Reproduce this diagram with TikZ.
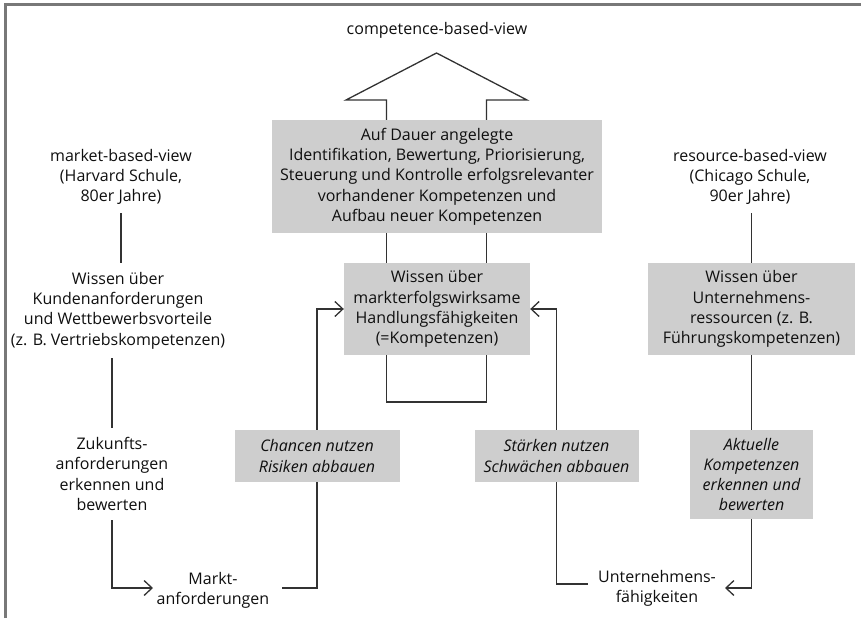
\documentclass[tikz,border=0pt]{standalone}
\usepackage{fontspec}
\setmainfont{Open Sans}
\usetikzlibrary{arrows.meta}
\definecolor{boxgray}{RGB}{206,206,206}
\definecolor{linegray}{RGB}{50,50,50}
\definecolor{framegray}{RGB}{120,120,120}
\definecolor{txt}{RGB}{15,15,15}
\begin{document}
\begin{tikzpicture}[x=1pt,y=-1pt,
  every node/.style={text=txt, font=\fontsize{16}{20.3}\selectfont, align=center, inner sep=0pt},
  graybox/.style={fill=boxgray, minimum width=#1},
  conn/.style={draw=linegray, line width=1.3pt},
  arr/.style={conn, -{Straight Barb[length=8pt,width=15pt,line width=1.3pt]}},
  itext/.style={font=\fontsize{16}{20.3}\selectfont\itshape}
]
\useasboundingbox (0,0) rectangle (861,618);
\draw[framegray, line width=2.5pt] (5.5,618) -- (5.5,4.5) -- (861,4.5);

% title and big arrow
\node (title) at (437,30) {competence-based-view};
\node[graybox=330, minimum height=113] (cbox) at (437,176.5)
  {Auf Dauer angelegte\\Identifikation, Bewertung, Priorisierung,\\Steuerung und Kontrolle erfolgsrelevanter\\vorhandener Kompetenzen und\\Aufbau neuer Kompetenzen};
\coordinate (sl) at (386.5,100);
\coordinate (sr) at (486.5,100);
\coordinate (apex) at (436.5,53);
\coordinate (wl) at (346,100);
\coordinate (wr) at (527,100);
\draw[conn, line join=miter] (cbox.north -| sl) -- (sl) -- (wl) -- (apex) -- (wr) -- (sr) -- (cbox.north -| sr);

% middle box
\node[graybox=186, minimum height=92] (mid) at (437,309)
  {Wissen über\\markterfolgswirksame\\Handlungsfähigkeiten\\(=Kompetenzen)};
\draw[conn] (cbox.south -| sl) -- (mid.north -| sl);
\draw[conn] (cbox.south -| sr) -- (mid.north -| sr);
\coordinate (lb) at (386.5,402);
\draw[conn] (mid.south -| lb) -- (lb) -- (lb -| sr) -- (mid.south -| sr);

% left column
\node[minimum height=72] (mbv) at (121,177) {market-based-view\\(Harvard Schule,\\80er Jahre)};
\node[minimum height=95] (wisl) at (118,310.5) {Wissen über\\Kundenanforderungen\\und Wettbewerbsvorteile\\(z. B. Vertriebskompetenzen)};
\node[minimum height=92] (zuk) at (112,474) {Zukunfts-\\anforderungen\\erkennen und\\bewerten};
\node (markt) at (213,590) {Markt-\\anforderungen};
\draw[conn] (mbv.south) -- (mbv.south |- wisl.north);
\draw[conn] (wisl.south -| zuk.north) -- (zuk.north);
\coordinate (mktin) at (153,588);
\draw[arr] (zuk.south) |- (mktin);

% Chancen
\node[graybox=165, minimum height=52, itext] (chan) at (317,456) {Chancen nutzen\\Risiken abbauen};
\draw[arr] (chan.north) |- (mid.west);
\coordinate (mktout) at (282,588);
\draw[conn] (chan.south) |- (mktout);

% Staerken
\node[graybox=164, minimum height=52, itext] (staerk) at (556.5,456) {Stärken nutzen\\Schwächen abbauen};
\draw[arr] (staerk.north) |- (mid.east);
\coordinate (untout) at (588,584);
\draw[conn] (staerk.south) |- (untout);

% right column
\node[minimum height=72] (rbv) at (750,177) {resource-based-view\\(Chicago Schule,\\90er Jahre)};
\node[graybox=207, minimum height=92] (rbox) at (751.5,309) {Wissen über\\Unternehmens-\\ressourcen (z. B.\\Führungskompetenzen)};
\draw[conn] (rbox.north |- rbv.south) -- (rbox.north);
\node[graybox=123, minimum height=89, itext] (akt) at (751.5,474.5) {Aktuelle\\Kompetenzen\\erkennen und\\bewerten};
\draw[conn] (rbox.south) -- (akt.north);
\node (unt) at (657,588) {Unternehmens-\\fähigkeiten};
\coordinate (untin) at (725,588);
\draw[arr] (akt.south) |- (untin);
\end{tikzpicture}
\end{document}
